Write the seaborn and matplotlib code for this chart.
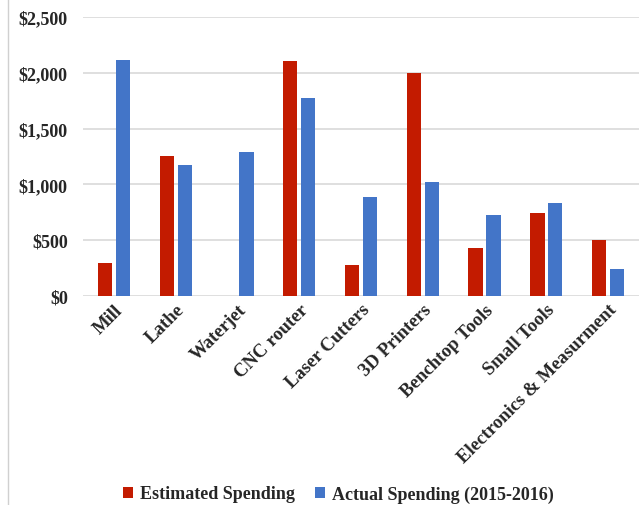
import matplotlib
matplotlib.use("Agg")
import matplotlib.pyplot as plt
import seaborn as sns
import pandas as pd
from matplotlib.lines import Line2D
from matplotlib.patches import Patch
from matplotlib.ticker import FuncFormatter

categories = ["Mill", "Lathe", "Waterjet", "CNC router", "Laser Cutters",
              "3D Printers", "Benchtop Tools", "Small Tools",
              "Electronics & Measurment"]
estimated = [300, 1260, 0, 2108, 278, 2000, 435, 743, 500]
actual = [2115, 1176, 1288, 1773, 886, 1024, 727, 832, 246]
series_names = ["Estimated Spending", "Actual Spending (2015-2016)"]
colors = ["#C31B00", "#4375C8"]

df = pd.DataFrame({
    "category": categories * 2,
    "value": estimated + actual,
    "series": [series_names[0]] * len(categories) + [series_names[1]] * len(categories),
})

sns.set_theme(style="white")
plt.rcParams["font.family"] = ["Liberation Serif", "DejaVu Serif"]
plt.rcParams["font.weight"] = "bold"

fig = plt.figure(figsize=(6.39, 5.06), dpi=100)
ax = fig.add_axes([0.13, 0.413, 0.87, 0.551])

sns.barplot(data=df, x="category", y="value", hue="series", order=categories,
            hue_order=series_names, palette=colors, width=0.58, gap=0.2,
            linewidth=0, saturation=1, ax=ax, legend=False, errorbar=None)

ax.set_ylim(0, 2500)
ax.set_xlim(-0.5, len(categories) - 0.5)
ax.set_yticks([0, 500, 1000, 1500, 2000, 2500])
ax.yaxis.set_major_formatter(FuncFormatter(lambda v, p: "${:,.0f}".format(v)))
ax.grid(axis="y", color="#D9D9D9", linewidth=1.2)
ax.set_axisbelow(True)
for s in ["left", "right", "top", "bottom"]:
    ax.spines[s].set_visible(False)
ax.tick_params(axis="both", length=0)
ax.tick_params(axis="y", labelsize=13, pad=11)
ax.set_xlabel("")
ax.set_ylabel("")
ax.set_xticks(range(len(categories)))
ax.set_xticklabels(categories, rotation=45, ha="right", va="top",
                   rotation_mode="anchor", fontsize=13.5, fontweight="bold")
for lbl in ax.get_yticklabels():
    lbl.set_fontweight("bold")

handles = [Patch(facecolor=c, edgecolor="none") for c in colors]
fig.legend(handles, series_names, loc="center", bbox_to_anchor=(0.53, 0.022),
           ncol=2, frameon=False, handlelength=0.55, handleheight=0.55,
           handletextpad=0.4, columnspacing=1.1,
           prop={"family": "Liberation Serif", "weight": "bold", "size": 13})

fig.add_artist(Line2D([0.013, 0.013], [0, 1], transform=fig.transFigure,
                      color="#D0D0D0", linewidth=1))

fig.savefig("out.png", dpi=100)
